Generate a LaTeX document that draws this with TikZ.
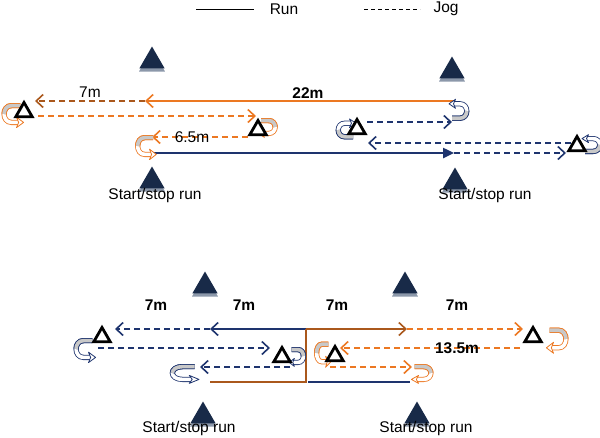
\documentclass[tikz,border=0pt]{standalone}
\usepackage{fontspec}
\setmainfont{Liberation Sans}
\usetikzlibrary{arrows.meta,shapes.geometric}
\definecolor{runorange}{RGB}{236,120,34}
\definecolor{runbrown}{RGB}{170,88,28}
\definecolor{runnavy}{RGB}{30,52,110}
\definecolor{conecol}{RGB}{24,42,72}
\definecolor{conesh}{RGB}{140,152,170}
\definecolor{ribbon}{RGB}{200,200,200}
\begin{document}
\begin{tikzpicture}[x=1pt,y=-1pt,
  font=\fontsize{15.5}{18}\selectfont,
  solidrun/.style={line width=2.4pt},
  jogline/.style={line width=1.7pt, dash pattern=on 6pt off 4pt},
  tip/.style={-{Straight Barb[length=7pt,width=13pt,line width=1.6pt]}},
  filltip/.style={-{Triangle[length=11pt,width=10pt]}},
  otri/.style={regular polygon, regular polygon sides=3, draw=black, line width=2.8pt, fill=white, minimum size=19pt, inner sep=0pt},
  cone/.style={regular polygon, regular polygon sides=3, fill=conecol, minimum size=29pt, inner sep=0pt},
  coneshadow/.style={regular polygon, regular polygon sides=3, fill=conesh, minimum size=30pt, inner sep=0pt},
  lbl/.style={inner sep=0pt},
  blbl/.style={inner sep=0pt, font=\fontsize{15.5}{18}\selectfont\bfseries},
  pics/uturn/.style={code={
    \draw[#1, line width=0.8pt, double=white, double distance=3.6pt]
      (3,-8) -- (-5,-8) .. controls (-14,-8) and (-14,8) .. (-5,8) -- (1,8);
    \draw[#1, line width=0.8pt, double=ribbon, double distance=3.6pt]
      (3,-8) -- (-5,-8) .. controls (-9.5,-8) and (-11.75,-4) .. (-11.75,0);
    \draw[#1, line width=0.8pt, fill=white, line join=round]
      (-0.5,3) -- (6,8) -- (-0.5,13) -- (1.5,8) -- cycle;
  }}
]
\useasboundingbox (0,0) rectangle (600,437);

% ---------------- legend ----------------
\coordinate (lrA) at (196,9); \coordinate (lrB) at (254,9);
\coordinate (ljA) at (364,9); \coordinate (ljB) at (420,9);
\draw[line width=1pt] (lrA) -- (lrB);
\draw[line width=1pt, dash pattern=on 4pt off 3pt] (ljA) -- (ljB);
\node[lbl] (legrun) at (284,9) {Run};
\node[lbl] (legjog) at (446,9) {Jog};

% ---------------- top section ----------------
\foreach \n/\x/\y in {c1/152/61, c2/452/71, c3/152/181, c4/455/182}{
  \node[coneshadow] at (\x,\y+3) {};
  \node[cone] (\n) at (\x,\y) {};
}
\node[lbl] (s1) at (155,195) {Start/stop run};
\node[lbl] (s2) at (485,195) {Start/stop run};

\coordinate (a1) at (455,101); \coordinate (a2) at (145,101); \coordinate (a3) at (35,101);
\coordinate (b1) at (38,116); \coordinate (b2) at (256,116);
\coordinate (d1) at (248,137); \coordinate (d2) at (152,137);
\coordinate (e1) at (150,153); \coordinate (e2) at (454,153); \coordinate (e3) at (566,153);
\coordinate (f1) at (571,143); \coordinate (f2) at (368,143);
\coordinate (g1) at (367,122); \coordinate (g2) at (452,122);

\draw[solidrun, runorange, tip] (a1) -- (a2);
\draw[jogline, runbrown, tip] (a2) -- (a3);
\draw[jogline, runorange, tip] (b1) -- (b2);
\draw[jogline, runorange, tip] (d1) -- (d2);
\draw[solidrun, runnavy, filltip] (e1) -- (e2);
\draw[jogline, runnavy, tip] (e2) -- (e3);
\draw[jogline, runnavy, tip] (f1) -- (f2);
\draw[jogline, runnavy, tip] (g1) -- (g2);

\node[lbl] (l7a) at (90,92) {7m};
\node[blbl] (l22) at (308,93) {22m};
\node[lbl] (l65) at (192,137) {6.5m};

% turns
\pic[xscale=1.1, yscale=1.05] at (17,114) {uturn=runorange};
\pic[xscale=-0.95, yscale=0.8] at (264,127) {uturn=runorange};
\pic[xscale=1.05, yscale=1.05] at (150,146) {uturn=runorange};
\pic[xscale=-1, yscale=-0.9] at (455,111) {uturn=runnavy};
\pic[xscale=1, yscale=-0.85] at (350,130) {uturn=runnavy};
\pic[xscale=-1, yscale=-0.8] at (588,145) {uturn=runnavy};

% outline triangles
\node[otri] (t1) at (24,112) {};
\node[otri] (t2) at (258,130) {};
\node[otri] (t3) at (357,129) {};
\node[otri] (t4) at (577,146) {};

% ---------------- bottom section ----------------
\foreach \n/\x/\y in {c5/205/286, c6/405/286, c7/203/416, c8/417/416}{
  \node[coneshadow] at (\x,\y+3) {};
  \node[cone] (\n) at (\x,\y) {};
}
\node[lbl] (s3) at (189,428) {Start/stop run};
\node[lbl] (s4) at (426,428) {Start/stop run};

\node[blbl] (m1) at (156,305) {7m};
\node[blbl] (m2) at (244,305) {7m};
\node[blbl] (m3) at (337,305) {7m};
\node[blbl] (m4) at (457,305) {7m};

\coordinate (p1) at (306,329); \coordinate (p2) at (210,329); \coordinate (p3) at (115,329);
\coordinate (q1) at (407,329); \coordinate (q2) at (523,329);
\coordinate (r1) at (306,382); \coordinate (r2) at (210,382); \coordinate (r3) at (410,382);
\coordinate (u1) at (520,348); \coordinate (u2) at (340,348);
\coordinate (v1) at (330,367); \coordinate (v2) at (412,367);
\coordinate (w1) at (98,348); \coordinate (w2) at (270,348);
\coordinate (z1) at (290,367); \coordinate (z2) at (200,367);

\draw[solidrun, runnavy, tip] (p1) -- (p2);
\draw[jogline, runnavy, tip] (p2) -- (p3);
\draw[solidrun, runbrown] (r2) -- (r1) -- (p1);
\draw[solidrun, runbrown, tip] (p1) -- (q1);
\draw[jogline, runorange, tip] (q1) -- (q2);
\draw[jogline, runorange, tip] (u1) -- (u2);
\draw[jogline, runorange, tip] (v1) -- (v2);
\draw[solidrun, runnavy] (r1) ++(2,0) -- (r3);
\draw[jogline, runnavy, tip] (w1) -- (w2);
\draw[jogline, runnavy, tip] (z1) -- (z2);

\node[blbl] (m135) at (457,348) {13.5m};

% turns
\pic[xscale=1.1, yscale=1.05] at (89,349) {uturn=runnavy};
\pic[xscale=-0.8, yscale=0.8] at (294,356) {uturn=runnavy};
\pic[xscale=1.5, yscale=0.8] at (190,373) {uturn=runnavy};
\pic[xscale=0.8, yscale=1.1] at (326,353) {uturn=runorange};
\pic[xscale=-1.1, yscale=1.1] at (553,339) {uturn=runorange};
\pic[xscale=-1.1, yscale=0.8] at (418,373) {uturn=runorange};

% outline triangles
\node[otri] (t5) at (102,337) {};
\node[otri] (t6) at (282,357) {};
\node[otri] (t7) at (335,356) {};
\node[otri] (t8) at (533,337) {};
\end{tikzpicture}
\end{document}
